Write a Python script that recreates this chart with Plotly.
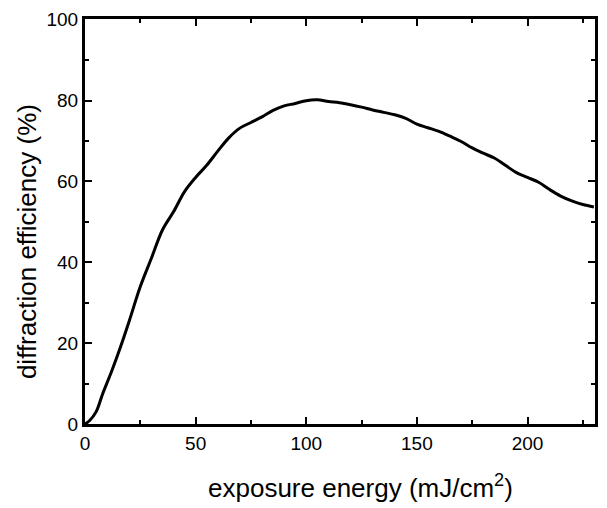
import plotly.graph_objects as go

exposure = [0, 2, 5, 8, 12, 16, 20, 25, 30, 35, 40, 45, 50, 55, 60, 65, 70, 75, 80, 85, 90, 95, 100, 105, 110, 115, 120, 125, 130, 135, 140, 145, 150, 155, 160, 165, 170, 175, 180, 185, 190, 195, 200, 205, 210, 215, 220, 225, 230]
efficiency = [0, 0.8, 3, 7.5, 13, 19, 25.5, 34, 41, 48, 52.5, 57.5, 61, 64, 67.5, 70.8, 73.2, 74.6, 76, 77.6, 78.7, 79.3, 80.0, 80.2, 79.8, 79.5, 79.0, 78.4, 77.7, 77.1, 76.5, 75.6, 74.2, 73.3, 72.4, 71.2, 69.9, 68.3, 67.0, 65.8, 64.0, 62.2, 61.0, 59.8, 58.0, 56.4, 55.2, 54.3, 53.7]

x_ticks = [0, 50, 100, 150, 200]
y_ticks = [0, 20, 40, 60, 80, 100]
x_title = "exposure energy (mJ/cm<sup>2</sup>)"
y_title = "diffraction efficiency (%)"

fig = go.Figure()
fig.add_trace(go.Scatter(x=exposure, y=efficiency, mode="lines",
                         line=dict(color="black", width=3, shape="spline", smoothing=1.0),
                         showlegend=False, hoverinfo="skip"))

font_family = "Liberation Sans, Arial, sans-serif"
axis_common = dict(
    showgrid=False, zeroline=False, showline=True, linecolor="black", linewidth=3,
    mirror="allticks", ticks="inside", ticklen=7, tickwidth=2, tickcolor="black",
    tickfont=dict(family=font_family, size=19, color="black"),
)
fig.update_xaxes(range=[0, 230.5], tickvals=x_ticks, ticktext=[str(v) for v in x_ticks],
                 minor=dict(tickmode="linear", tick0=0, dtick=25, ticks="inside", ticklen=4, tickwidth=2, tickcolor="black"),
                 **axis_common)
fig.update_yaxes(range=[0, 100.2], tickvals=y_ticks, ticktext=[str(v) for v in y_ticks],
                 minor=dict(tickmode="linear", tick0=0, dtick=10, ticks="inside", ticklen=4, tickwidth=2, tickcolor="black"),
                 **axis_common)

fig.add_annotation(text=x_title, xref="paper", yref="paper", x=0.54, y=-0.155,
                   xanchor="center", yanchor="middle", showarrow=False,
                   font=dict(family=font_family, size=26, color="black"))
fig.add_annotation(text=y_title, xref="paper", yref="paper", x=-0.115, y=0.45,
                   xanchor="center", yanchor="middle", showarrow=False, textangle=-90,
                   font=dict(family=font_family, size=26, color="black"))

fig.update_layout(width=607, height=508, margin=dict(l=85, r=9, t=16, b=84),
                  plot_bgcolor="white", paper_bgcolor="white")
fig.write_html("out.html")
